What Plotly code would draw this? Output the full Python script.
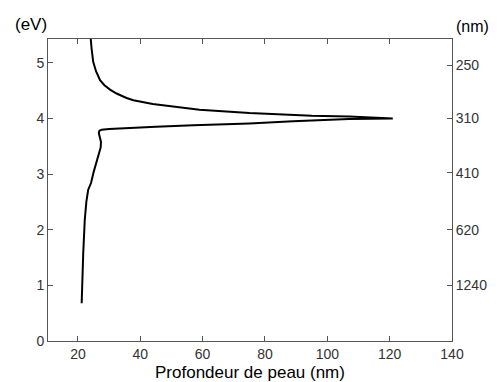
import plotly.graph_objects as go

# skin depth (nm) vs photon energy (eV), traced as one path
depth_nm = [21.2, 21.4, 21.7, 22.2, 22.7, 23.3, 24.2, 25.1, 26.0, 26.8, 27.3, 27.4,
            27.1, 26.7, 26.9, 27.6, 30.0, 35.1, 45.0, 57.0, 75.0, 89.0, 100.0, 107.0, 121.0,
            107.0, 95.0, 89.0, 75.0, 59.0, 48.5, 44.0, 37.8, 35.6, 32.4, 30.3, 28.5,
            27.1, 25.8, 24.9, 24.4, 24.0]
energy_eV = [0.68, 1.10, 1.58, 2.18, 2.50, 2.72, 2.84, 3.05, 3.24, 3.38, 3.48, 3.58,
             3.68, 3.74, 3.78, 3.80, 3.81, 3.82, 3.85, 3.88, 3.91, 3.95, 3.98, 3.99, 4.00,
             4.035, 4.05, 4.065, 4.10, 4.16, 4.23, 4.26, 4.33, 4.37, 4.45, 4.52, 4.60,
             4.69, 4.85, 5.02, 5.25, 5.50]

x_ticks = [20, 40, 60, 80, 100, 120, 140]
ev_ticks = [0, 1, 2, 3, 4, 5]
wavelength_ticks = [250, 310, 410, 620, 1240]   # right axis, nm
wl_pos = [1240.0 / w for w in wavelength_ticks]  # E(eV) = 1240 / lambda(nm)

FONT = "Liberation Sans, Arial, sans-serif"
AXC = "#555555"
Y_RANGE = [0, 5.43]

fig = go.Figure()
fig.add_trace(go.Scatter(x=depth_nm, y=energy_eV, mode="lines",
                         line=dict(color="black", width=2), showlegend=False,
                         hoverinfo="skip"))
# empty trace so the right axis is drawn
fig.add_trace(go.Scatter(x=[None], y=[None], yaxis="y2", showlegend=False))

# page body has an 8px default margin, so the figure is 8px smaller
fig.update_layout(
    width=490, height=374,
    margin=dict(l=40, r=46, t=31, b=41),
    paper_bgcolor="white", plot_bgcolor="white",
    font=dict(family=FONT, size=14, color="#333333"),
    xaxis=dict(range=[10.4, 140], tickvals=x_ticks, ticks="inside", ticklen=5,
               tickcolor=AXC, showline=True, linecolor=AXC, linewidth=1,
               mirror="ticks", showgrid=False, zeroline=False, automargin=False),
    yaxis=dict(range=Y_RANGE, tickvals=ev_ticks, ticks="inside", ticklen=5,
               tickcolor=AXC, showline=True, linecolor=AXC, linewidth=1,
               mirror=True, showgrid=False, zeroline=False, automargin=False),
    yaxis2=dict(range=Y_RANGE, overlaying="y", side="right",
                tickvals=wl_pos, ticktext=[str(w) for w in wavelength_ticks],
                ticks="inside", ticklen=5, tickcolor=AXC, showline=True,
                linecolor=AXC, linewidth=1, showgrid=False, zeroline=False,
                automargin=False),
)

fig.add_annotation(text="(eV)", xref="paper", yref="paper", x=-0.041, y=1.0,
                   yshift=15, xanchor="center", yanchor="middle", showarrow=False,
                   font=dict(size=17, color="black", family=FONT))
fig.add_annotation(text="(nm)", xref="paper", yref="paper", x=1.05, y=1.0,
                   yshift=13, xanchor="center", yanchor="middle", showarrow=False,
                   font=dict(size=16, color="black", family=FONT))
fig.add_annotation(text="Profondeur de peau (nm)", xref="paper", yref="paper",
                   x=0.5, y=0, yshift=-31, xanchor="center", yanchor="middle",
                   showarrow=False, font=dict(size=17, color="black", family=FONT))

fig.write_html("out.html")
